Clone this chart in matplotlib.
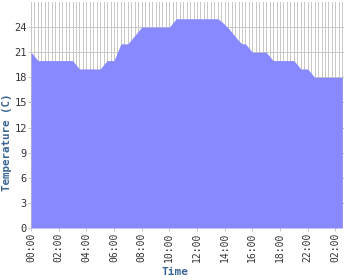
import matplotlib

matplotlib.use("Agg")
import matplotlib.pyplot as plt
import numpy as np

# readings every 15 minutes (index-based x axis)
TEMPS = [
    21, 20.5, 20, 20, 20, 20, 20, 20, 20, 20, 20, 20, 20, 19.5, 19, 19,
    19, 19, 19, 19, 19, 19.5, 20, 20, 20, 21, 22, 22, 22, 22.5, 23, 23.5,
    24, 24, 24, 24, 24, 24, 24, 24, 24, 24.5, 25, 25, 25, 25, 25, 25,
    25, 25, 25, 25, 25, 25, 25, 24.7, 24.3, 23.9, 23.4, 22.9, 22.4, 22, 22,
    21.5, 21, 21, 21, 21, 21, 20.5, 20, 20, 20, 20, 20, 20, 20, 19.5, 19,
    19, 19, 18.5, 18, 18, 18, 18, 18, 18, 18, 18, 18,
]
TICK_LABELS = ["00:00", "02:00", "04:00", "06:00", "08:00", "10:00",
               "12:00", "14:00", "16:00", "18:00", "22:00", "02:00"]
Y_TICKS = [0, 3, 6, 9, 12, 15, 18, 21, 24]

FILL = "#8888ff"
GRID = "#c8c8c8"
LABEL = "#3a6592"


def main() -> None:
    x = np.arange(len(TEMPS))

    fig = plt.figure(figsize=(3.5, 2.8), dpi=100)
    ax = fig.add_axes([31 / 350, 52 / 280, 313 / 350, 226 / 280])

    ax.fill_between(x, TEMPS, 0, color=FILL, linewidth=0, zorder=3)

    ax.set_xlim(0, len(TEMPS) - 0.5)
    ax.set_ylim(0, 27)

    ax.set_xticks(np.arange(0, len(TEMPS), 8)[: len(TICK_LABELS)])
    ax.set_xticklabels(TICK_LABELS, rotation=90, family="DejaVu Sans Mono",
                       fontsize=7, color="#333333")
    ax.set_xticks(x, minor=True)
    ax.set_yticks(Y_TICKS)
    ax.set_yticklabels([str(v) for v in Y_TICKS], family="DejaVu Sans Mono",
                       fontsize=7.5, color="#333333")

    ax.grid(True, which="both", axis="x", color=GRID, linewidth=0.72, zorder=0)
    ax.grid(True, which="major", axis="y", color=GRID, linewidth=0.72, zorder=0)
    ax.set_axisbelow(True)

    ax.tick_params(which="major", length=2, width=0.72, color=GRID, pad=1)
    ax.tick_params(which="minor", length=0)
    for s in ax.spines.values():
        s.set_visible(False)

    fig.text(7 / 350, 138 / 280, "Temperature (C)", rotation=90, ha="center", va="center",
             family="DejaVu Sans Mono", fontweight="bold", fontsize=7.8, color=LABEL)
    fig.text(0.5, 8 / 280, "Time", ha="center", va="center",
             family="DejaVu Sans Mono", fontweight="bold", fontsize=8, color=LABEL)

    fig.savefig("out.png", dpi=100)


if __name__ == "__main__":
    main()
